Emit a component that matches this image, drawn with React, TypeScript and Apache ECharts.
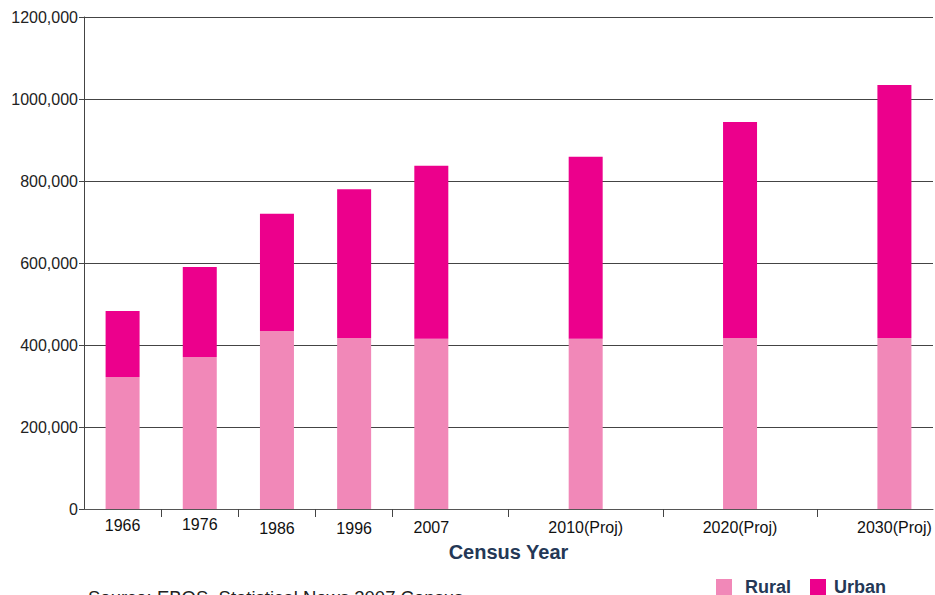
import React, { useEffect, useRef } from "react";
import * as echarts from "echarts";

const categories = ["1966", "1976", "1986", "1996", "2007", "", "2010(Proj)", "", "2020(Proj)", "", "2030(Proj)"];
const ruralValues: (number | null)[] = [322000, 371000, 434000, 417000, 415000, null, 415000, null, 417000, null, 417000];
const urbanValues: (number | null)[] = [161000, 219000, 286000, 363000, 422000, null, 444000, null, 527000, null, 617000];
const yTickLabels = ["0", "200,000", "400,000", "600,000", "800,000", "1000,000", "1200,000"];
const seriesNames = ["Rural", "Urban"];
const xAxisTitle = "Census Year";
const sourceText = "Source: EBOS, Statistical News 2007 Census";

// tick marks sit at these half-slot positions (22 half slots across the axis)
const halfSlots = Array.from({ length: 23 }, () => "");
const tickHalfSlotIdx = [2, 4, 6, 8, 11, 15, 19];
// small vertical jitter of labels as in the original picture
const labelNudge = [1, 0, 4, 4, 3, 0, 3, 0, 3, 0, 3];
const legendTextGap = [8, 3];

const NAVY = "#243856";
const FONT = "Liberation Sans, Arial, sans-serif";

export default function App() {
  const ref = useRef<HTMLDivElement>(null);
  useEffect(() => {
    if (!ref.current) return;
    const chart = echarts.init(ref.current, undefined, { renderer: "svg" });
    const rich: Record<string, any> = {};
    [0, 1, 2, 3, 4].forEach((k) => {
      rich["n" + k] = { padding: [k, 0, 0, 0], fontSize: 16, color: "#111", fontFamily: FONT };
    });
    chart.setOption({
      animation: false,
      backgroundColor: "#ffffff",
      textStyle: { fontFamily: FONT },
      grid: { left: 84, right: 2, top: 17, bottom: 86, containLabel: false, outerBoundsMode: "none" },
      legend: {
        data: seriesNames.map((name, i) => ({
          name,
          textStyle: { padding: [0, 0, 0, legendTextGap[i]] },
        })),
        left: 716,
        top: 578,
        itemWidth: 16,
        itemHeight: 16,
        itemGap: 19,
        icon: "rect",
        padding: 0,
        textStyle: { fontSize: 18, fontWeight: "bold", color: NAVY },
      },
      xAxis: [
        {
          type: "category",
          data: categories,
          boundaryGap: true,
          axisLine: { show: true, lineStyle: { color: "#555", width: 1 } },
          axisTick: { show: false },
          axisLabel: {
            interval: 0,
            margin: 7,
            formatter: (v: string, i: number) => (v ? `{n${labelNudge[i] || 0}|${v}}` : ""),
            rich,
          },
          name: xAxisTitle,
          nameLocation: "middle",
          nameGap: 33,
          nameTextStyle: { fontSize: 20, fontWeight: "bold", color: NAVY },
          splitLine: { show: false },
        },
        {
          type: "category",
          data: halfSlots,
          boundaryGap: false,
          position: "bottom",
          axisLine: { show: false },
          axisLabel: { show: false },
          axisTick: {
            show: true,
            length: 8,
            interval: (i: number) => tickHalfSlotIdx.includes(i),
            lineStyle: { color: "#444", width: 1 },
          },
          splitLine: { show: false },
        },
      ],
      yAxis: {
        type: "value",
        min: 0,
        max: 1200000,
        interval: 200000,
        axisLine: { show: true, lineStyle: { color: "#444", width: 1 } },
        axisTick: { show: true, length: 5, lineStyle: { color: "#444" } },
        axisLabel: {
          margin: 6,
          fontSize: 16,
          color: "#222",
          formatter: (v: number) => yTickLabels[Math.round(v / 200000)] ?? "",
        },
        splitLine: { show: true, lineStyle: { color: "#444", width: 1 } },
      },
      series: [
        {
          name: seriesNames[0],
          type: "bar",
          stack: "pop",
          barWidth: 34,
          data: ruralValues,
          itemStyle: { color: "#F188B8" },
        },
        {
          name: seriesNames[1],
          type: "bar",
          stack: "pop",
          barWidth: 34,
          data: urbanValues,
          itemStyle: { color: "#EC008C" },
        },
      ],
      graphic: [
        {
          type: "text",
          left: 88,
          top: 588,
          style: { text: sourceText, fontSize: 18.5, fill: "#222", fontFamily: FONT },
        },
      ],
    });
    return () => chart.dispose();
  }, []);
  return <div ref={ref} style={{ position: "fixed", left: 0, top: 0, width: 935, height: 595 }} />;
}
